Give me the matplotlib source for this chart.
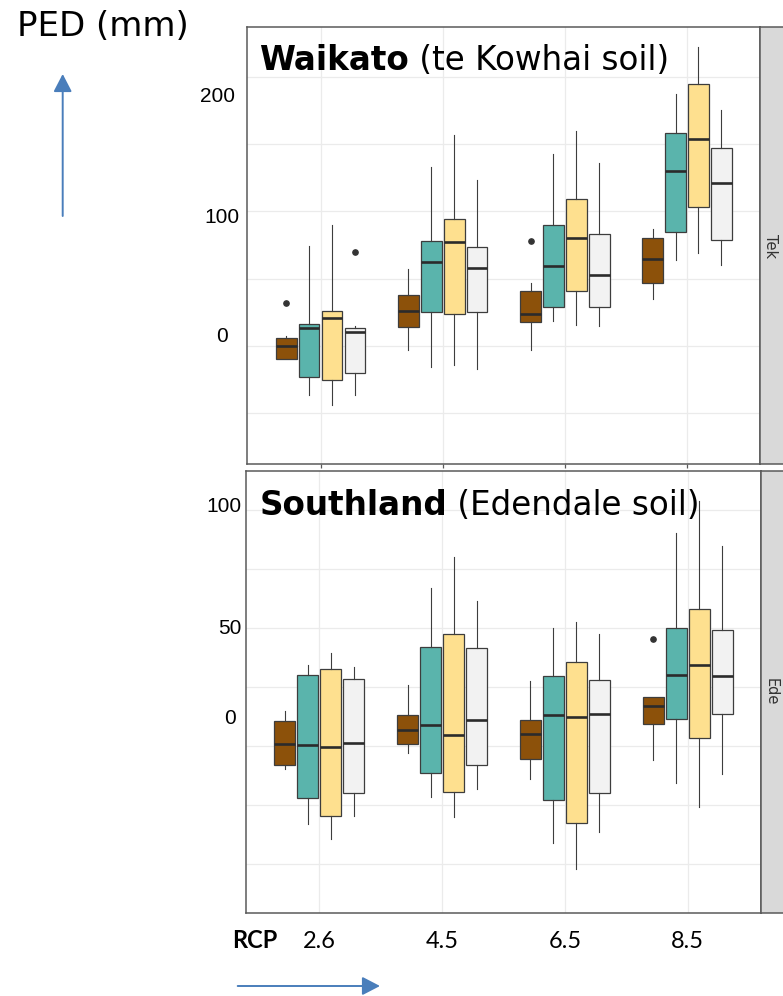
import matplotlib
matplotlib.use("Agg")
import matplotlib.pyplot as plt
from matplotlib.patches import FancyArrowPatch

# ---- data -------------------------------------------------------------
rcp_labels = ["2.6", "4.5", "6.5", "8.5"]
series_colors = ["#8C510A", "#5AB4AC", "#FEE08F", "#F2F2F2"]

# Waikato, te Kowhai soil (strip "Tek"); rows = RCP, columns = series
tek_lo = [[-10, -37, -44, -36.5], [-3, -16, -14, -17],
          [-3.5, 18.5, 15.5, 14.5], [34.5, 63.5, 69, 60]]
tek_q1 = [[-9.5, -23.5, -25.5, -20.5], [14, 25, 24, 25],
          [18, 29, 41, 29], [46.5, 85, 103, 79]]
tek_med = [[-0.5, 13, 20.5, 10], [26, 62, 77, 58],
           [24, 59, 80, 53], [64.5, 130, 154, 121]]
tek_q3 = [[6, 16.5, 25.5, 13], [38, 78, 94, 73.5],
          [41, 90, 109, 83], [80.5, 158.5, 195, 147]]
tek_hi = [[7, 74.5, 89.5, 15], [57, 133, 157, 123.5],
          [47, 143, 160, 136], [87, 187, 222, 175.5]]
tek_out = [[[32], [], [], [70]], [[], [], [], []],
           [[78], [], [], []], [[], [], [], []]]

# Southland, Edendale soil (strip "Ede")
ede_lo = [[-9.5, -33, -39.5, -29.5], [-3, -21.5, -30, -18],
          [-14, -41, -52, -36.5], [-6, -15.5, -26, -12]]
ede_q1 = [[-8, -22, -29.5, -20], [1, -11.5, -19.5, -8],
          [-5.5, -23, -32.5, -20], [9.5, 11.5, 3.5, 13.5]]
ede_med = [[1, 0.5, -0.5, 1.5], [7, 9, 4.5, 11],
           [5, 13, 12.5, 13.5], [17, 30, 34.5, 29.5]]
ede_q3 = [[10.5, 30, 32.5, 28.5], [13, 42, 47.5, 41.5],
          [11, 29.5, 35.5, 28], [21, 50, 58, 49]]
ede_hi = [[15, 34.5, 39.5, 33.5], [26, 67, 80, 61.5],
          [27.5, 50, 52.5, 47.5], [21, 90.5, 104, 85]]
ede_out = [[[], [], [], []], [[], [], [], []],
           [[], [], [], []], [[45.5], [], [], []]]

tek_grid = [-50, 0, 50, 100, 150, 200]
ede_grid = [-50, -25, 0, 25, 50, 75, 100]
tek_ylabels = ["200", "100", "0"]
ede_ylabels = ["100", "50", "0"]

# ---- figure -------------------------------------------------------------
W, H = 783, 996
fig = plt.figure(figsize=(W / 100, H / 100), dpi=100)


def frac_box(x0, y0, x1, y1):
    """Pixel box (top-left origin) -> figure-fraction rect."""
    return [x0 / W, 1 - y1 / H, (x1 - x0) / W, (y1 - y0) / H]


def fx(x):
    return x / W


def fy(y):
    return 1 - y / H


offsets = [-0.281, -0.094, 0.094, 0.281]
edge = "#3d3d3d"


def draw_panel(ax, lo, q1, med, q3, hi, out, grid, ylim):
    for i in range(len(rcp_labels)):
        for j, col in enumerate(series_colors):
            stats = [dict(whislo=lo[i][j], q1=q1[i][j], med=med[i][j],
                          q3=q3[i][j], whishi=hi[i][j], fliers=out[i][j])]
            ax.bxp(stats, positions=[i + 1 + offsets[j]], widths=0.17,
                   patch_artist=True, showcaps=False, manage_ticks=False,
                   boxprops=dict(facecolor=col, edgecolor=edge, linewidth=0.9),
                   medianprops=dict(color="#2b2b2b", linewidth=1.9),
                   whiskerprops=dict(color=edge, linewidth=0.8),
                   flierprops=dict(marker="o", markersize=3.8,
                                   markerfacecolor="#333333",
                                   markeredgecolor="#333333"))
    ax.set_xlim(0.4, 4.6)
    ax.set_ylim(*ylim)
    ax.set_yticks(grid)
    ax.set_xticks(range(1, len(rcp_labels) + 1))
    ax.grid(True, color="#EBEBEB", linewidth=0.9)
    ax.set_axisbelow(True)
    ax.tick_params(axis="y", length=0, labelleft=False)
    for s in ax.spines.values():
        s.set_color("#5a5a5a")
        s.set_linewidth(1.1)


def strip(rect, label, text_x):
    sax = fig.add_axes(rect)
    sax.set_facecolor("#D9D9D9")
    sax.set_xticks([])
    sax.set_yticks([])
    for s in sax.spines.values():
        s.set_color("#5a5a5a")
        s.set_linewidth(1.1)
    sax.text(text_x, 0.5, label, rotation=-90, ha="center", va="center",
             fontsize=10.5, color="#333333", transform=sax.transAxes)


# top panel: Waikato
ax1 = fig.add_axes(frac_box(247.3, 27.3, 760.3, 464.0))
draw_panel(ax1, tek_lo, tek_q1, tek_med, tek_q3, tek_hi, tek_out,
           tek_grid, (-88, 237))
ax1.tick_params(axis="x", length=3, width=0.9, color="#5a5a5a",
                labelbottom=False)
strip(frac_box(760.3, 27.3, 792, 464.0), "Tek", 0.31)

# bottom panel: Southland
ax2 = fig.add_axes(frac_box(245.7, 470.7, 761.3, 912.7))
draw_panel(ax2, ede_lo, ede_q1, ede_med, ede_q3, ede_hi, ede_out,
           ede_grid, (-70.6, 116.7))
ax2.set_xticklabels(rcp_labels, fontfamily="Lato", fontsize=17)
ax2.tick_params(axis="x", length=0, pad=13)
strip(frac_box(761.3, 470.7, 792, 912.7), "Ede", 0.31)

# panel titles: bold region name followed by soil name
title_font = dict(fontfamily="DejaVu Sans", fontsize=23.5, color="black")
for region, soil, baseline in [("Waikato", " (te Kowhai soil)", 69.5),
                               ("Southland", " (Edendale soil)", 515.0)]:
    t = fig.text(fx(259.3), fy(baseline), region, fontweight="bold",
                 va="baseline", ha="left", zorder=10, **title_font)
    a = fig.add_artist(plt.Annotation(soil, xy=(1, 0), xycoords=t,
                                      va="bottom", ha="left",
                                      annotation_clip=False, **title_font))
    a.set_zorder(10)

# y-axis value labels
ylab_font = dict(fontfamily="Liberation Sans", fontsize=15, color="black",
                 ha="right", va="center")
for txt, x, y in zip(tek_ylabels, [235, 240, 228.3], [96.7, 217.3, 336.0]):
    fig.text(fx(x), fy(y), txt, **ylab_font)
for txt, x, y in zip(ede_ylabels, [242, 242, 236], [507.0, 628.0, 718.0]):
    fig.text(fx(x), fy(y), txt, **ylab_font)

# axis captions and direction arrows
fig.text(fx(17.3), fy(36), "PED (mm)", fontfamily="DejaVu Sans",
         fontsize=24.5, va="baseline", ha="left")
fig.text(fx(255), fy(940), "RCP", fontfamily="Lato", fontweight="bold",
         fontsize=17, va="center", ha="center")

arrow_col = "#4A7EBB"
for p0, p1 in [((62.7, 216), (62.7, 74)), ((237.7, 986), (380, 986))]:
    fig.patches.append(FancyArrowPatch(
        (fx(p0[0]), fy(p0[1])), (fx(p1[0]), fy(p1[1])),
        transform=fig.transFigure, arrowstyle="-|>,head_length=0.54,head_width=0.28",
        mutation_scale=20, shrinkA=0, shrinkB=0, color=arrow_col, linewidth=1.4))

fig.savefig("out.png", dpi=100)
